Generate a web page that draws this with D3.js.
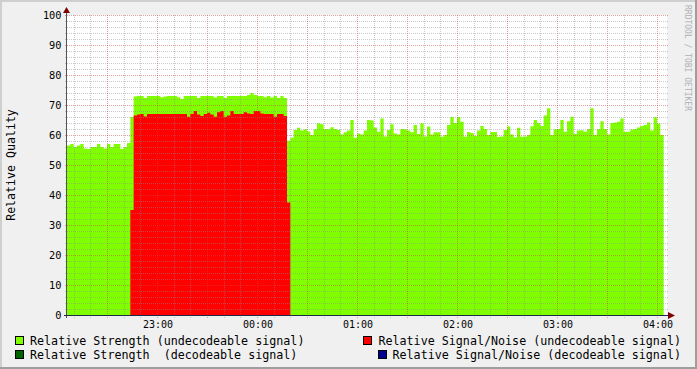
<!DOCTYPE html>
<html lang="en">
<head>
<meta charset="UTF-8">
<title>Relative Quality</title>
<script src="https://cdn.jsdelivr.net/npm/d3@7/dist/d3.min.js"></script>
<style>
    body{
        margin:0;
        padding:0;
        background:#f0f0f0;
    }
    svg{ display:block; }
    text{
        font-family:"DejaVu Sans Mono", monospace;
        white-space:pre;
    }
</style>
</head>
<body>
<svg width="697" height="369"></svg>
<script>

// data, one sample every 2 minutes
var stepMinutes = 2
var viewStart = "22:05:42"
var strengthStart = "22:05:42"
var snrStart = "22:43:42"

var strengthUndecodeable = [
    56.5, 57, 56, 56.5, 57, 55.5, 55.3, 56, 56, 57, 56, 55.5, 57, 56, 57, 57, 55.3, 56, 57.3,
    66,
    72.8, 73, 73, 72.3, 73, 73, 73, 73, 72.6, 72.8, 73, 73, 73, 72.6, 72, 73, 73, 73, 73, 72.3,
    73, 73, 73, 73, 72.5, 73, 73, 72.3, 73, 73, 73, 73, 73, 73, 73.3, 74, 73.3, 73, 73, 72.6,
    73, 72.5, 73, 72.3, 73, 72.3,
    58.1,
    59.1, 61.7, 62.4, 61.5, 61.9, 61.2, 60, 61.9, 63.9, 63.6, 62, 61.9, 62.6, 62, 61.7, 60.2,
    60.9, 61.5, 65, 59.1, 60.5, 60.2, 61.5, 65, 64.8, 62.5, 61.1, 65.5, 59.5, 61.7, 63.6, 60.5,
    60.2, 62, 61.9, 61.5, 60.9, 63.3, 60.3, 63.9, 59.5, 62.8, 60.2, 60.9, 60.9, 59.4, 60, 63.3,
    66, 64, 66, 64.4, 59.4, 61, 60.7, 59.7, 61.5, 63, 62, 60, 61, 61, 59.3, 59.5,
    61.7, 62.8, 60.2, 59.2, 62.4, 59.4, 59.5, 60, 62.9, 65, 64, 63, 66.5, 68.9, 60, 61.9,
    62, 65, 61.1, 64.6, 66.1, 60.3, 61.5, 61.6, 61.1, 62, 68.9, 60, 62, 64.6, 62, 60.2,
    64, 64.2, 64.4, 65.5, 61.1, 61.1, 61.8, 62, 62.5, 63, 63.3, 64.2, 61.5, 65.9, 63.8, 60
]
var snrUndecodeable = [
    35,
    66.5, 66.8, 67, 66.2, 67, 67, 67, 67, 67, 67, 67, 67, 67, 67, 67, 67,
    66.1, 67, 68, 66.8, 66.3, 67, 67.4, 66.8, 66.1, 67.6, 68, 66.1, 66.5, 68, 67,
    67, 67, 67.6, 67.2, 67, 68, 68, 67.2, 67, 67, 67, 66.1, 67, 67, 66.3,
    37.5
]
var strengthDecodeable = []
var snrDecodeable = []

var yTicks = [0, 10, 20, 30, 40, 50, 60, 70, 80, 90, 100]
var legendLeft = ['Relative Strength (undecodeable signal)', 'Relative Strength  (decodeable signal)']
var legendRight = ['Relative Signal/Noise (undecodeable signal)', 'Relative Signal/Noise (decodeable signal)']
var colors = {
    strengthU: '#80ff00',
    strengthD: '#006400',
    snrU: '#ff0000',
    snrD: '#000090'
}

var plotL = 67, plotR = 667, plotT = 15, plotB = 315

var parse = d3.timeParse('%Y-%m-%d %H:%M:%S')
var toDate = s => parse('2000-01-01 ' + s)
var t0 = toDate(viewStart)
var t1 = d3.timeHour.offset(t0, 6)

var x = d3.scaleTime().domain([t0, t1]).range([plotL, plotR])
var y = d3.scaleLinear().domain([0, 100]).range([plotB, plotT])

var svg = d3.select('svg')

svg.append('rect').attr('width', 697).attr('height', 369).attr('fill', '#f0f0f0')
svg.append('rect')
    .attr('x', plotL).attr('y', plotT)
    .attr('width', plotR - plotL).attr('height', plotB - plotT)
    .attr('fill', '#ffffff')

svg.append('clipPath').attr('id', 'plot')
    .append('rect')
    .attr('x', plotL).attr('y', plotT - 1)
    .attr('width', plotR - plotL).attr('height', plotB - plotT + 1)

// each sample becomes a flat step
var steps = (vals, start) => {
    var s = toDate(start), pts = []
    vals.forEach((v, i) => {
        pts.push({t: d3.timeMinute.offset(s, i * stepMinutes), v: v})
        pts.push({t: d3.timeMinute.offset(s, (i + 1) * stepMinutes), v: v})
    })
    return pts
}

var area = d3.area()
    .x(d => x(d.t))
    .y0(y(0))
    .y1(d => y(d.v))

var areas = svg.append('g').attr('clip-path', 'url(#plot)')
areas.append('path')
    .attr('d', area(steps(strengthUndecodeable, strengthStart)))
    .attr('fill', colors.strengthU)
areas.append('path')
    .attr('d', area(steps(snrUndecodeable, snrStart)))
    .attr('fill', colors.snrU)

// grid on top of the areas, like rrdtool
var grid = svg.append('g')
var minorY = y.ticks(50).filter(v => v % 10 != 0)
var majorY = yTicks

grid.selectAll('.hmin').data(minorY).enter().append('line')
    .attr('x1', plotL - 2).attr('x2', plotR + 2)
    .attr('y1', d => y(d) + 0.5).attr('y2', d => y(d) + 0.5)
    .attr('stroke', 'rgba(140,140,140,0.45)')
    .attr('stroke-dasharray', '1,1')
grid.selectAll('.hmaj').data(majorY).enter().append('line')
    .attr('x1', plotL - 2).attr('x2', plotR + 2)
    .attr('y1', d => y(d) + 0.5).attr('y2', d => y(d) + 0.5)
    .attr('stroke', 'rgba(200,70,70,0.5)')
    .attr('stroke-dasharray', '1,1')

var minorX = x.ticks(d3.timeMinute.every(10)).filter(d => d.getMinutes() % 30 != 0)
var majorX = x.ticks(d3.timeMinute.every(30))
var px = d => Math.floor(x(d)) + 0.5

grid.selectAll('.vmin').data(minorX).enter().append('line')
    .attr('x1', px).attr('x2', px)
    .attr('y1', plotT).attr('y2', plotB + 3)
    .attr('stroke', 'rgba(140,140,140,0.45)')
    .attr('stroke-dasharray', '1,1')
grid.selectAll('.vmaj').data(majorX).enter().append('line')
    .attr('x1', px).attr('x2', px)
    .attr('y1', plotT).attr('y2', plotB + 3)
    .attr('stroke', 'rgba(200,70,70,0.5)')
    .attr('stroke-dasharray', '1,1')

// axes
svg.append('line')
    .attr('x1', plotL - 0.5).attr('x2', plotL - 0.5)
    .attr('y1', plotB + 3).attr('y2', 11)
    .attr('stroke', '#555')
svg.append('line')
    .attr('x1', plotL - 3).attr('x2', 670)
    .attr('y1', plotB + 0.5).attr('y2', plotB + 0.5)
    .attr('stroke', '#1c2a4a')
svg.append('path')
    .attr('d', 'M' + (plotL - 4) + ',13L' + (plotL - 0.5) + ',7L' + (plotL + 3) + ',13Z')
    .attr('fill', '#7f0000')
svg.append('path')
    .attr('d', 'M668,' + (plotB - 3) + 'L675,' + (plotB + 0.5) + 'L668,' + (plotB + 4) + 'Z')
    .attr('fill', '#7f0000')

// tick labels
svg.selectAll('.ylab').data(yTicks).enter().append('text')
    .attr('x', 61.5)
    .attr('y', d => y(d) + 4)
    .attr('text-anchor', 'end')
    .attr('font-size', '10.3px')
    .attr('fill', '#000')
    .text(d => d)

var fmt = d3.timeFormat('%H:%M')
svg.selectAll('.xlab').data(x.ticks(d3.timeHour.every(1))).enter().append('text')
    .attr('x', d => x(d) + 0.5)
    .attr('y', 328)
    .attr('text-anchor', 'middle')
    .attr('font-size', '10px')
    .attr('fill', '#000')
    .text(fmt)

// y title
svg.append('text')
    .attr('transform', 'translate(15,165) rotate(-90)')
    .attr('text-anchor', 'middle')
    .attr('font-size', '11.6px')
    .text('Relative Quality')

// watermark
svg.append('text')
    .attr('transform', 'translate(685,5) rotate(90)')
    .attr('font-size', '8px')
    .attr('fill', '#b0b0b0')
    .text('RRDTOOL / TOBI OETIKER')

// legend
var legend = svg.append('g').attr('font-size', '11.7px')
var rows = [345, 359]
var leftColors = [colors.strengthU, colors.strengthD]
var rightColors = [colors.snrU, colors.snrD]

legendLeft.forEach((label, i) => {
    legend.append('rect')
        .attr('x', 15.5).attr('y', rows[i] - 8.5)
        .attr('width', 8).attr('height', 8)
        .attr('fill', leftColors[i]).attr('stroke', '#000')
    legend.append('text')
        .attr('x', 30).attr('y', rows[i])
        .text(label)
})
legendRight.forEach((label, i) => {
    var t = legend.append('text')
        .attr('x', 681).attr('y', rows[i])
        .attr('text-anchor', 'end')
        .text(label)
    var w = t.node().getComputedTextLength()
    legend.append('rect')
        .attr('x', Math.round(681 - w - 15) + 0.5).attr('y', rows[i] - 8.5)
        .attr('width', 8).attr('height', 8)
        .attr('fill', rightColors[i]).attr('stroke', '#000')
})

// 3d frame
svg.append('path').attr('d', 'M1,368V1H696').attr('fill', 'none').attr('stroke', '#cfcfcf').attr('stroke-width', 2)
svg.append('path').attr('d', 'M0,368H696V0').attr('fill', 'none').attr('stroke', '#9e9e9e').attr('stroke-width', 2)

</script>
</body>
</html>
